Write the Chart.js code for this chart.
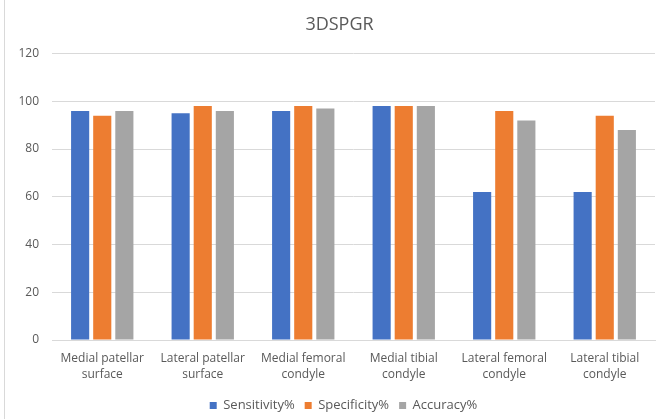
<!DOCTYPE html>
<html>
<head>
<meta charset="utf-8">
<script src="https://cdn.jsdelivr.net/npm/chart.js@4.4.1/dist/chart.umd.min.js"></script>
<style>
  html, body { margin: 0; padding: 0; background: #ffffff; }
  #wrap { width: 670px; height: 419px; position: relative; }
</style>
</head>
<body>
<div id="wrap"><canvas id="c" width="670" height="419"></canvas></div>
<script>
// Regions of the knee joint surface
const categories = [
  ["Medial patellar", "surface"],
  ["Lateral patellar", "surface"],
  ["Medial femoral", "condyle"],
  ["Medial tibial", "condyle"],
  ["Lateral femoral", "condyle"],
  ["Lateral tibial", "condyle"]
];

// Diagnostic performance (%) per region
const sensitivity = [96, 95, 96, 98, 62, 62];
const specificity = [94, 98, 98, 98, 96, 94];
const accuracy    = [96, 96, 97, 98, 92, 88];

// Value axis ticks
const yTicks = [0, 20, 40, 60, 80, 100, 120];

const textColor = '#595959';
const gridColor = '#d9d9d9';
const fontFamily = '"Open Sans", "Liberation Sans", sans-serif';

// Thin frame line along the left edge of the chart area
const framePlugin = {
  id: 'frame',
  beforeDraw(chart) {
    const ctx = chart.ctx;
    ctx.save();
    ctx.strokeStyle = '#d9d9d9';
    ctx.lineWidth = 1;
    ctx.beginPath();
    ctx.moveTo(4.5, 0);
    ctx.lineTo(4.5, chart.height);
    ctx.stroke();
    ctx.restore();
  }
};

// Center title and legend over the whole chart block rather than the padded box
const centerBlocksPlugin = {
  id: 'centerBlocks',
  afterLayout(chart) {
    if (chart.titleBlock) { chart.titleBlock.left += 12; chart.titleBlock.right += 12; }
    if (chart.legend) { chart.legend.left += 16; chart.legend.right += 16; }
  }
};

new Chart(document.getElementById('c'), {
  type: 'bar',
  data: {
    labels: categories,
    datasets: [
      { label: 'Sensitivity%', data: sensitivity, backgroundColor: '#4472C4' },
      { label: 'Specificity%', data: specificity, backgroundColor: '#ED7D31' },
      { label: 'Accuracy%',    data: accuracy,    backgroundColor: '#A5A5A5' }
    ]
  },
  options: {
    responsive: false,
    animation: false,
    devicePixelRatio: 1,
    layout: { padding: { top: 4, right: 15, bottom: -3, left: 0 } },
    datasets: {
      bar: { categoryPercentage: 0.66, barPercentage: 0.82 }
    },
    plugins: {
      title: {
        display: true,
        text: '3DSPGR',
        color: textColor,
        font: { family: fontFamily, size: 18, weight: 'normal' },
        padding: { top: 10, bottom: 18 }
      },
      legend: {
        position: 'bottom',
        labels: {
          color: textColor,
          font: { family: fontFamily, size: 13 },
          boxWidth: 7,
          boxHeight: 7,
          padding: 10
        }
      },
      tooltip: { enabled: false }
    },
    scales: {
      x: {
        afterFit(scale) { scale.height = 49; },
        grid: { display: false, drawTicks: false },
        border: { display: true, color: gridColor },
        ticks: {
          color: textColor,
          font: { family: fontFamily, size: 12, lineHeight: 1.33 },
          maxRotation: 0,
          autoSkip: false,
          padding: 11
        }
      },
      y: {
        min: 0,
        max: 120,
        afterFit(scale) { scale.width = 52; },
        afterBuildTicks(scale) { scale.ticks = yTicks.map(v => ({ value: v })); },
        grid: { color: gridColor, drawTicks: false },
        border: { display: false },
        ticks: {
          color: textColor,
          font: { family: fontFamily, size: 12 },
          padding: 13
        }
      }
    }
  },
  plugins: [framePlugin, centerBlocksPlugin]
});
</script>
</body>
</html>
